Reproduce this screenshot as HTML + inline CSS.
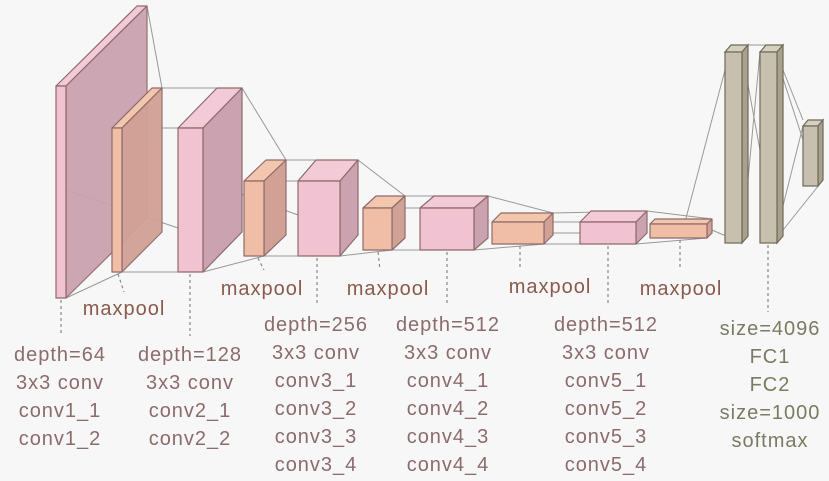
<!DOCTYPE html>
<html><head><meta charset="utf-8"><style>
html,body{margin:0;padding:0;background:#f7f7f7;}
svg{display:block}
text{font-family:"Liberation Sans","DejaVu Sans",sans-serif;font-size:20px;letter-spacing:1px;text-anchor:middle}
.m{fill:#8a5a4c}
.l{fill:#8c6b6b}
.f{fill:#7b7b63}
.d{stroke:#888;stroke-width:1.2;stroke-dasharray:3,3;fill:none}
.c{stroke:#999;stroke-width:1;fill:none}
</style></head><body>
<svg width="829" height="481" viewBox="0 0 829 481">
<rect width="829" height="481" fill="#f7f7f7"/>
<g class="c">
<line x1="147" y1="6" x2="162" y2="88"/>
<line x1="66" y1="298" x2="122" y2="272"/>
<line x1="66" y1="190" x2="178" y2="228"/>
<line x1="122" y1="128" x2="178" y2="128"/>
<line x1="122" y1="272" x2="178" y2="272"/>
<line x1="162" y1="88" x2="242" y2="88"/>
<line x1="242" y1="88" x2="286" y2="160"/>
<line x1="203" y1="272" x2="264" y2="256"/>
<line x1="203" y1="180" x2="298" y2="215"/>
<line x1="264" y1="181" x2="298" y2="181"/>
<line x1="264" y1="256" x2="298" y2="256"/>
<line x1="286" y1="160" x2="358" y2="160"/>
<line x1="358" y1="160" x2="405" y2="196"/>
<line x1="340" y1="256" x2="392" y2="250"/>
<line x1="392" y1="208" x2="420" y2="208"/>
<line x1="392" y1="250" x2="420" y2="250"/>
<line x1="405" y1="196" x2="488" y2="196"/>
<line x1="488" y1="196" x2="553" y2="213"/>
<line x1="474" y1="250" x2="544" y2="244"/>
<line x1="544" y1="222" x2="580" y2="222"/>
<line x1="544" y1="244" x2="580" y2="244"/>
<line x1="544" y1="233" x2="580" y2="233"/>
<line x1="553" y1="213" x2="647" y2="211"/>
<line x1="647" y1="211" x2="712" y2="219"/>
<line x1="636" y1="244" x2="707" y2="238"/>
<line x1="685" y1="222" x2="725" y2="70"/>
<line x1="712" y1="230" x2="742" y2="243"/>
<line x1="742" y1="52" x2="777" y2="243"/>
<line x1="742" y1="243" x2="760" y2="52"/>
<line x1="748" y1="45" x2="783" y2="45"/>
<line x1="777" y1="60" x2="818" y2="186"/>
<line x1="777" y1="230" x2="803" y2="126"/>
<line x1="783" y1="70" x2="803" y2="120"/>
<line x1="783" y1="230" x2="823" y2="180"/>
</g>
<g stroke="#8e6a6a" stroke-width="1.2" stroke-linejoin="round">
<polygon points="56,86 66,86 147,6 137,6" fill="#f3cad8"/>
<polygon points="66,86 147,6 147,218 66,298" fill="#cba2b0" opacity="0.95"/>
<rect x="56" y="86" width="10" height="212" fill="#f0c2d2"/>
<polygon points="112,128 122,128 162,88 152,88" fill="#f3c6ae"/>
<polygon points="122,128 162,88 162,232 122,272" fill="#d2a196" opacity="0.95"/>
<rect x="112" y="128" width="10" height="144" fill="#f0bea6"/>
<polygon points="178,128 203,128 242,88 217,88" fill="#f3cad8"/>
<polygon points="203,128 242,88 242,232 203,272" fill="#cba2b0"/>
<rect x="178" y="128" width="25" height="144" fill="#f0c2d2"/>
<polygon points="244,181 264,181 286,160 266,160" fill="#f3c6ae"/>
<polygon points="264,181 286,160 286,235 264,256" fill="#d2a196"/>
<rect x="244" y="181" width="20" height="75" fill="#f0bea6"/>
<polygon points="298,181 340,181 358,160 316,160" fill="#f3cad8"/>
<polygon points="340,181 358,160 358,235 340,256" fill="#cba2b0"/>
<rect x="298" y="181" width="42" height="75" fill="#f0c2d2"/>
<polygon points="363,208 392,208 405,196 376,196" fill="#f3c6ae"/>
<polygon points="392,208 405,196 405,238 392,250" fill="#d2a196"/>
<rect x="363" y="208" width="29" height="42" fill="#f0bea6"/>
<polygon points="420,208 474,208 488,196 434,196" fill="#f3cad8"/>
<polygon points="474,208 488,196 488,238 474,250" fill="#cba2b0"/>
<rect x="420" y="208" width="54" height="42" fill="#f0c2d2"/>
<polygon points="492,222 544,222 553,213 501,213" fill="#f3c6ae"/>
<polygon points="544,222 553,213 553,235 544,244" fill="#d2a196"/>
<rect x="492" y="222" width="52" height="22" fill="#f0bea6"/>
<polygon points="580,222 636,222 647,211 591,211" fill="#f3cad8"/>
<polygon points="636,222 647,211 647,233 636,244" fill="#cba2b0"/>
<rect x="580" y="222" width="56" height="22" fill="#f0c2d2"/>
<polygon points="650,224 707,224 712,219 655,219" fill="#f3c6ae"/>
<polygon points="707,224 712,219 712,233 707,238" fill="#d2a196"/>
<rect x="650" y="224" width="57" height="14" fill="#f0bea6"/>
</g>
<g stroke="#6e6a58" stroke-width="1.2">
<polygon points="725,52 742,52 748,45 731,45" fill="#d6d0c0"/>
<polygon points="742,52 748,45 748,236 742,243" fill="#a9a190"/>
<rect x="725" y="52" width="17" height="191" fill="#c8c0ae"/>
<polygon points="760,52 777,52 783,45 766,45" fill="#d6d0c0"/>
<polygon points="777,52 783,45 783,236 777,243" fill="#a9a190"/>
<rect x="760" y="52" width="17" height="191" fill="#c8c0ae"/>
<polygon points="803,126 818,126 823,120 808,120" fill="#d6d0c0"/>
<polygon points="818,126 823,120 823,180 818,186" fill="#a9a190"/>
<rect x="803" y="126" width="15" height="60" fill="#c8c0ae"/>
</g>
<g class="d">
<line x1="61" y1="300" x2="61" y2="335"/>
<line x1="118" y1="274" x2="124" y2="292"/>
<line x1="190" y1="274" x2="190" y2="336"/>
<line x1="258" y1="258" x2="264" y2="270"/>
<line x1="317" y1="258" x2="317" y2="306"/>
<line x1="378" y1="252" x2="380" y2="270"/>
<line x1="447" y1="252" x2="447" y2="306"/>
<line x1="520" y1="246" x2="520" y2="270"/>
<line x1="608" y1="246" x2="608" y2="306"/>
<line x1="680" y1="240" x2="680" y2="268"/>
<line x1="768" y1="245" x2="768" y2="312"/>
</g>
<g class="m">
<text x="124" y="315">maxpool</text>
<text x="262" y="295">maxpool</text>
<text x="388" y="295">maxpool</text>
<text x="550" y="293">maxpool</text>
<text x="681" y="295">maxpool</text>
</g>
<g class="l">
<text x="60" y="361">depth=64</text><text x="60" y="389">3x3 conv</text><text x="60" y="417">conv1_1</text><text x="60" y="445">conv1_2</text>
<text x="190" y="361">depth=128</text><text x="190" y="389">3x3 conv</text><text x="190" y="417">conv2_1</text><text x="190" y="445">conv2_2</text>
<text x="316" y="331">depth=256</text><text x="316" y="359">3x3 conv</text><text x="316" y="387">conv3_1</text><text x="316" y="415">conv3_2</text><text x="316" y="443">conv3_3</text><text x="316" y="471">conv3_4</text>
<text x="448" y="331">depth=512</text><text x="448" y="359">3x3 conv</text><text x="448" y="387">conv4_1</text><text x="448" y="415">conv4_2</text><text x="448" y="443">conv4_3</text><text x="448" y="471">conv4_4</text>
<text x="606" y="331">depth=512</text><text x="606" y="359">3x3 conv</text><text x="606" y="387">conv5_1</text><text x="606" y="415">conv5_2</text><text x="606" y="443">conv5_3</text><text x="606" y="471">conv5_4</text>
</g>
<g class="f">
<text x="770" y="335">size=4096</text><text x="770" y="363">FC1</text><text x="770" y="391">FC2</text><text x="770" y="419">size=1000</text><text x="770" y="447">softmax</text>
</g>
</svg>
</body></html>
